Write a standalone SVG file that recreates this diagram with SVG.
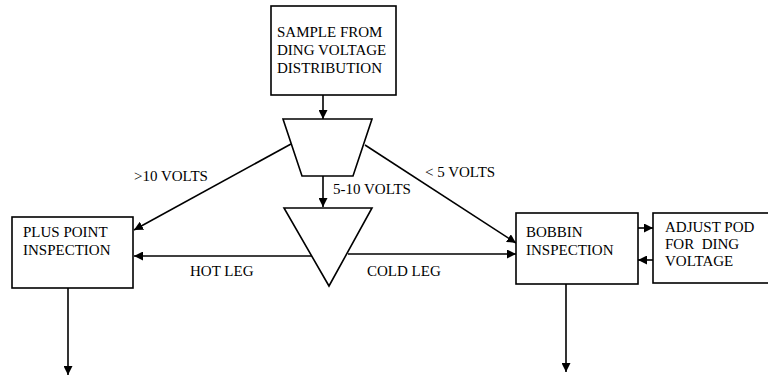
<svg xmlns="http://www.w3.org/2000/svg" width="768" height="377" viewBox="0 0 768 377">
<style>
.box{fill:#fff;stroke:#000;stroke-width:1.6}
.shape{fill:#fff;stroke:#000;stroke-width:1.6}
.t{font-family:"Liberation Serif","Times New Roman",serif;font-size:15px;fill:#000}
.c{fill:none;stroke:#000;stroke-width:1.6}
</style>
<defs>
<marker id="ah" viewBox="0 0 10 10" refX="10" refY="5" markerWidth="9" markerHeight="9" markerUnits="userSpaceOnUse" orient="auto">
<path d="M0,0 L10,5 L0,10 Z" fill="#000"/>
</marker>
</defs>
<rect width="768" height="377" fill="#fff"/>
<g id="connectors">
<line class="c" x1="323" y1="95" x2="323" y2="119" marker-end="url(#ah)"/>
<line class="c" x1="323" y1="176" x2="323" y2="207" marker-end="url(#ah)"/>
<line class="c" x1="291" y1="144" x2="134" y2="230" marker-end="url(#ah)"/>
<line class="c" x1="365" y1="145" x2="516" y2="243" marker-end="url(#ah)"/>
<line class="c" x1="312" y1="256" x2="134" y2="256" marker-end="url(#ah)"/>
<line class="c" x1="348" y1="254" x2="516" y2="254" marker-end="url(#ah)"/>
<line class="c" x1="638" y1="228" x2="653" y2="228" marker-end="url(#ah)"/>
<line class="c" x1="653" y1="260" x2="638" y2="260" marker-end="url(#ah)"/>
<line class="c" x1="68" y1="288" x2="68" y2="375" marker-end="url(#ah)"/>
<line class="c" x1="566" y1="284" x2="566" y2="372" marker-end="url(#ah)"/>
<text class="t" x="134" y="181">&gt;10 VOLTS</text>
<text class="t" x="333" y="194">5-10 VOLTS</text>
<text class="t" x="425" y="177">&lt; 5 VOLTS</text>
<text class="t" x="190" y="276">HOT LEG</text>
<text class="t" x="367" y="276">COLD LEG</text>
</g>
<g id="sample">
<rect class="box" x="271" y="6" width="125" height="89"/>
<text class="t" x="277" y="37">SAMPLE FROM</text>
<text class="t" x="277" y="55">DING VOLTAGE</text>
<text class="t" x="277" y="73">DISTRIBUTION</text>
</g>
<g id="split">
<polygon class="shape" points="283,119 372,119 353,176 302,176"/>
</g>
<g id="legs">
<polygon class="shape" points="284,208 372,208 329,286"/>
</g>
<g id="plus-point">
<rect class="box" x="12" y="217" width="121" height="71"/>
<text class="t" x="23" y="237">PLUS POINT</text>
<text class="t" x="23" y="255">INSPECTION</text>
</g>
<g id="bobbin">
<rect class="box" x="516" y="213" width="122" height="71"/>
<text class="t" x="526" y="237">BOBBIN</text>
<text class="t" x="526" y="255">INSPECTION</text>
</g>
<g id="adjust">
<rect class="box" x="653" y="213" width="120" height="70"/>
<text class="t" x="665" y="232">ADJUST POD</text>
<text class="t" x="665" y="249">FOR&#160; DING</text>
<text class="t" x="665" y="266">VOLTAGE</text>
</g>
</svg>
